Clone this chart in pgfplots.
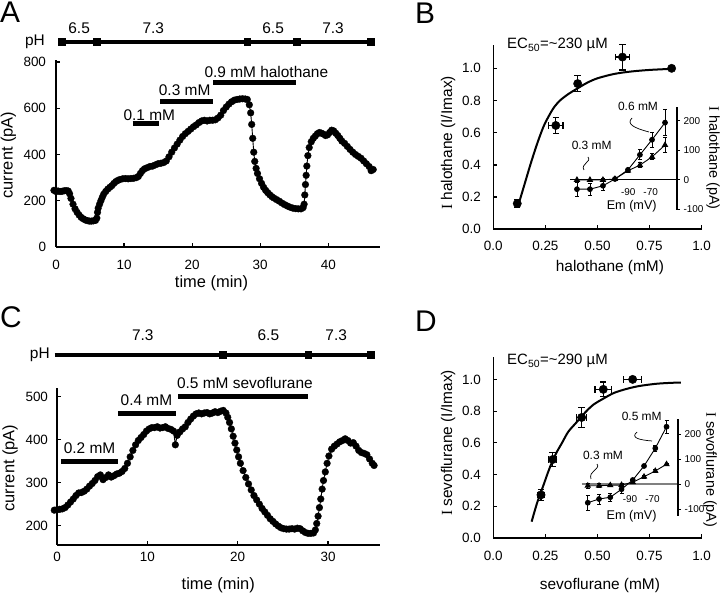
\documentclass[border=0pt]{standalone}
\usepackage{pgfplots}
\pgfplotsset{compat=1.18}
\usepackage{fontspec}
\setmainfont{Liberation Sans}
\newfontfamily\serifI{Liberation Serif}
\newcommand\fs[1]{\fontsize{#1}{#1}\selectfont}
\tikzset{ann/.style={font=\fs{15.5}}}
\begin{document}
\begin{tikzpicture}[x=1bp,y=1bp]
\path[use as bounding box] (0,0) rectangle (720,595);
\pgfplotsset{
  mainax/.style={
    scale only axis, clip=false, anchor=south west,
    axis x line*=bottom, axis y line*=left,
    axis line style={line width=1.6bp, black},
    tick align=inside, major tick length=4bp,
    tick style={black, line width=1.2bp},
    tick label style={font=\fs{13.5}},
    /pgf/number format/assume math mode=true,
    label style={font=\fs{16.5}},
    xlabel style={anchor=center},
    ylabel style={anchor=center},
  },
  trace/.style={black, line width=0.9bp, mark=*, mark size=3.4bp, mark options={line width=0.3bp}},
  phbar/.style={black, line width=4bp, mark=square*, mark size=3.4bp, mark options={line width=0.3bp}},
  drugbar/.style={black, line width=5bp},
  bigpt/.style={black, only marks, mark=*, mark size=4.2bp,
    error bars/.cd, x dir=both, x explicit, y dir=both, y explicit,
    error bar style={line width=1.2bp}, error mark options={rotate=90, mark size=3.2bp, line width=1.2bp}},
  fitc/.style={black, smooth, line width=2bp, no marks},
  inset/.style={scale only axis, clip=false, anchor=south west,
    axis x line=middle, axis y line=right, axis line style={-},
    hide obscured x ticks=false, hide obscured y ticks=false,
    tick label style={font=\fs{10}},
    xtick={-90,-70}, xticklabels={-90,-70}, xtick style={draw=none},
    ytick={-100,0,100,200}, yticklabels={-100,0,100,200},
    ytick style={black, line width=0.8bp}, tick align=outside, major tick length=3bp,
    y axis line style={line width=1.2bp, black}},
  ivc/.style={black, line width=0.9bp, mark=*, mark size=2.4bp,
    error bars/.cd, y dir=both, y explicit, error bar style={line width=0.9bp}, error mark options={rotate=90, mark size=2bp, line width=0.9bp}},
  ivt/.style={black, line width=0.9bp, mark=triangle*, mark size=2.9bp,
    error bars/.cd, y dir=both, y explicit, error bar style={line width=0.9bp}, error mark options={rotate=90, mark size=2bp, line width=0.9bp}},
}

% ---------------- Panel A ----------------
\begin{axis}[mainax, at={(56bp,348bp)}, width=324bp, height=187.3bp,
  xmin=0, xmax=47.6, ymin=0, ymax=810,
  xtick={0,10,20,30,40}, ytick={0,200,400,600,800},
  xticklabel style={yshift=-10bp}, yticklabel style={xshift=-6.5bp},
  xlabel={time (min)}, ylabel={current (pA)},
  xlabel style={at={(axis description cs:0.48,-0.194)}},
  ylabel style={at={(axis description cs:-0.147,0.491)}},
]
\addplot[trace] coordinates {
(-0.3,245) (0,240) (0.3,242) (0.6,240) (0.9,241) (1.2,243) (1.5,244) (1.8,242) (2.0,230) (2.2,210)
(2.5,185) (2.8,165) (3.1,150) (3.4,138) (3.7,128) (4.0,122) (4.3,117) (4.6,114) (4.9,112) (5.2,112)
(5.5,113) (5.8,115) (6.0,125) (6.1,150) (6.2,168) (6.4,185) (6.6,200) (6.8,215) (7.0,228) (7.3,240)
(7.6,250) (7.9,258) (8.2,265) (8.5,275) (8.8,283) (9.1,288) (9.4,292) (9.8,295) (10.2,296) (10.6,295)
(11.0,296) (11.4,297) (11.8,300) (12.1,305) (12.4,318) (12.7,330) (13.0,338) (13.4,343) (13.8,348) (14.2,350)
(14.6,355) (15.0,360) (15.4,362) (15.8,365) (16.2,372) (16.6,390) (17.0,410) (17.4,428) (17.8,445) (18.2,462)
(18.6,478) (19.0,490) (19.4,500) (19.8,510) (20.2,520) (20.6,528) (21.0,538) (21.4,545) (21.8,548) (22.2,545)
(22.6,548) (23.0,548) (23.4,550) (23.8,558) (24.2,570) (24.6,590) (25.0,605) (25.4,618) (25.8,628) (26.2,635)
(26.6,638) (27.0,640) (27.4,641) (27.8,640) (28.1,638) (28.4,615) (28.6,580) (28.75,530) (28.9,470) (29.05,410)
(29.2,370) (29.4,340) (29.6,318) (29.9,295) (30.2,275) (30.5,258) (30.8,245) (31.1,235) (31.4,226) (31.7,218)
(32.0,212) (32.4,205) (32.8,198) (33.2,190) (33.6,183) (34.0,177) (34.4,172) (34.8,168) (35.2,166) (35.6,165)
(36.0,165) (36.3,170) (36.45,185) (36.55,225) (36.65,270) (36.75,310) (36.85,350) (37.0,395) (37.2,430) (37.5,455)
(37.8,470) (38.1,480) (38.4,490) (38.7,495) (39.0,492) (39.3,488) (39.6,482) (39.9,485) (40.2,495) (40.5,505)
(40.8,502) (41.1,492) (41.4,482) (41.7,470) (42.0,458) (42.4,448) (42.8,435) (43.2,422) (43.6,410) (44.0,400)
(44.4,392) (44.8,384) (45.2,372) (45.6,360) (46.0,348) (46.3,330) (46.6,335)
};
\addplot[phbar] coordinates {(0.83,886.6) (5.97,886.6) (28.07,886.6) (35.3,886.6) (46.2,886.6)};
\node[ann] at (axis cs:-3.1,886.6) {pH};
\node[ann] at (axis cs:3.4,946) {6.5};
\node[ann] at (axis cs:14.3,946) {7.3};
\node[ann] at (axis cs:31.9,946) {6.5};
\node[ann] at (axis cs:40.7,946) {7.3};
\addplot[drugbar] coordinates {(11.25,532) (15.16,532)};
\addplot[drugbar] coordinates {(15.35,628) (23.0,628)};
\addplot[drugbar] coordinates {(23.1,710) (35.3,710)};
\node[ann] at (axis cs:13.7,571) {0.1 mM};
\node[ann] at (axis cs:18.9,676) {0.3 mM};
\node[ann] at (axis cs:30.9,758) {0.9 mM halothane};
\end{axis}

% ---------------- Panel C ----------------
\begin{axis}[mainax, at={(57bp,50bp)}, width=322.5bp, height=156.5bp,
  xmin=0, xmax=35.7, ymin=155, ymax=519,
  xtick={0,10,20,30}, ytick={200,300,400,500},
  xticklabel style={yshift=-4bp}, yticklabel style={xshift=-5.5bp},
  xlabel={time (min)}, ylabel={current (pA)},
  xlabel style={at={(axis description cs:0.5,-0.256)}},
  ylabel style={at={(axis description cs:-0.145,0.492)}},
]
\addplot[trace] coordinates {
(-0.3,236) (0,237) (0.3,238) (0.6,239) (0.9,242) (1.2,248) (1.5,255) (1.8,262) (2.1,270) (2.4,276)
(2.7,277) (3.0,280) (3.3,285) (3.6,292) (3.9,298) (4.2,305) (4.5,314) (4.8,318) (5.1,307) (5.4,312)
(5.7,318) (6.0,313) (6.3,316) (6.6,320) (6.9,322) (7.2,326) (7.5,333) (7.8,345) (8.1,360) (8.4,375)
(8.7,388) (9.0,398) (9.3,405) (9.6,412) (9.9,420) (10.2,425) (10.5,428) (10.8,428) (11.1,430) (11.4,427)
(11.7,428) (12.0,430) (12.3,426) (12.6,424) (12.9,420) (13.1,388) (13.3,410) (13.6,418) (13.9,425) (14.2,430)
(14.5,440) (14.8,448) (15.1,455) (15.4,460) (15.7,462) (16.0,460) (16.3,462) (16.6,463) (16.9,460) (17.2,462)
(17.5,465) (17.8,463) (18.1,466) (18.4,468) (18.7,462) (18.9,452) (19.1,440) (19.3,425) (19.5,408) (19.7,392)
(19.9,376) (20.1,360) (20.3,345) (20.6,328) (20.9,312) (21.2,297) (21.5,283) (21.8,270) (22.1,260) (22.4,250)
(22.7,240) (23.0,232) (23.3,224) (23.6,216) (23.9,210) (24.2,204) (24.5,199) (24.8,195) (25.1,193) (25.4,192)
(25.7,192) (26.0,193) (26.3,192) (26.6,194) (26.9,193) (27.2,188) (27.5,184) (27.8,182) (28.1,182) (28.4,183)
(28.6,190) (28.75,205) (28.9,222) (29.05,242) (29.2,262) (29.35,285) (29.5,305) (29.7,325) (29.9,345) (30.1,362)
(30.4,378) (30.7,385) (31.0,390) (31.3,395) (31.6,398) (31.9,402) (32.2,398) (32.5,392) (32.8,393) (33.1,385)
(33.4,375) (33.7,370) (34.0,368) (34.3,365) (34.6,355) (34.9,345) (35.1,340)
};
\addplot[phbar, mark indices={2,3,4}] coordinates {(-0.26,597) (18.3,597) (27.8,597) (34.7,597)};
\node[ann] at (axis cs:-1.9,597) {pH};
\node[ann] at (axis cs:9.5,643.5) {7.3};
\node[ann] at (axis cs:23.4,643.5) {6.5};
\node[ann] at (axis cs:30.9,643.5) {7.3};
\addplot[drugbar] coordinates {(0.48,349) (6.75,349)};
\addplot[drugbar] coordinates {(6.75,461) (13.2,461)};
\addplot[drugbar] coordinates {(13.4,500) (27.8,500)};
\node[ann] at (axis cs:3.6,380) {0.2 mM};
\node[ann] at (axis cs:9.9,492) {0.4 mM};
\node[ann] at (axis cs:20.8,531) {0.5 mM sevoflurane};
\end{axis}

% ---------------- Panel B ----------------
\begin{axis}[mainax, at={(493.3bp,365.7bp)}, width=208.3bp, height=184.3bp,
  xmin=0, xmax=1, ymin=0, ymax=1.145,
  xtick={0,0.25,0.5,0.75,1}, xticklabels={0.0,0.25,0.50,0.75,1.0},
  ytick={0,0.2,0.4,0.6,0.8,1},
  xticklabel style={yshift=-8bp},
  yticklabel style={xshift=-9bp, /pgf/number format/.cd, fixed, fixed zerofill, precision=1},
  label style={font=\fs{15.5}},
  xlabel={halothane (mM)}, ylabel={{\serifI I} halothane (I/Imax)},
  xlabel style={at={(axis description cs:0.56,-0.205)}},
  ylabel style={at={(axis description cs:-0.217,0.468)}},
]
\addplot[fitc] coordinates {(0.12,0.15) (0.15,0.28) (0.18,0.41) (0.21,0.53) (0.24,0.635) (0.265,0.70) (0.29,0.755) (0.32,0.80) (0.36,0.84) (0.40,0.872) (0.45,0.91) (0.50,0.938) (0.58,0.965) (0.66,0.98) (0.75,0.99) (0.86,0.997)};
\addplot[bigpt] coordinates {
(0.115,0.16) +- (0.01,0.025)
(0.30,0.645) +- (0.035,0.05)
(0.405,0.905) +- (0.01,0.05)
(0.62,1.07) +- (0.035,0.08)
(0.856,1.0) +- (0,0)
};
\node[anchor=west, font=\fs{15}] at (axis cs:0.05,1.145) {EC\textsubscript{50}=\textasciitilde230 µM};
\end{axis}

% ---------------- Panel D ----------------
\begin{axis}[mainax, at={(493.3bp,57bp)}, width=208.3bp, height=181.3bp,
  xmin=0, xmax=1, ymin=0, ymax=1.143,
  xtick={0,0.25,0.5,0.75,1}, xticklabels={0.0,0.25,0.50,0.75,1.0},
  ytick={0,0.2,0.4,0.6,0.8,1},
  xticklabel style={yshift=-9.5bp},
  yticklabel style={xshift=-9bp, /pgf/number format/.cd, fixed, fixed zerofill, precision=1},
  label style={font=\fs{15.5}},
  xlabel={sevoflurane (mM)}, ylabel={{\serifI I} sevoflurane (I/Imax)},
  xlabel style={at={(axis description cs:0.512,-0.26)}},
  ylabel style={at={(axis description cs:-0.217,0.524)}},
]
\addplot[fitc] coordinates {(0.184,0.103) (0.21,0.22) (0.24,0.33) (0.27,0.44) (0.30,0.53) (0.33,0.60) (0.36,0.67) (0.40,0.73) (0.44,0.79) (0.48,0.84) (0.53,0.88) (0.58,0.915) (0.64,0.94) (0.70,0.958) (0.78,0.972) (0.85,0.978) (0.90,0.98)};
\addplot[bigpt] coordinates {
(0.229,0.272) +- (0.015,0.035)
(0.285,0.495) +- (0.02,0.045)
(0.424,0.76) +- (0.025,0.063)
(0.528,0.937) +- (0.04,0.046)
(0.669,1.0) +- (0.044,0)
};
\node[anchor=west, font=\fs{15}] at (axis cs:0.05,1.115) {EC\textsubscript{50}=\textasciitilde290 µM};
\end{axis}

% ---------------- Inset B ----------------
\begin{axis}[inset, at={(570bp,385bp)}, width=107bp, height=103bp,
  xmin=-142, xmax=-46.5, ymin=-102, ymax=247,
  x axis line style={line width=1bp, black},
  xticklabel style={yshift=-2bp},
]
\addplot[ivt] coordinates {(-135.8,0) +- (0,3) (-124.2,0) +- (0,3) (-112.6,0) +- (0,5) (-101.9,3) +- (0,4) (-90.3,31) +- (0,6) (-79.6,50) +- (0,9) (-68.8,78) +- (0,10) (-57.2,118) +- (0,25)};
\addplot[ivc] coordinates {(-135.8,-31.5) +- (0,24) (-124.2,-31.5) +- (0,20) (-112.6,-20) +- (0,15) (-101.9,3) +- (0,4) (-90.3,34) +- (0,6) (-79.6,85) +- (0,17) (-68.8,136) +- (0,25) (-57.2,194) +- (0,45)};
\node[font=\fs{12.7}] at (axis cs:-86.9,-90.5) {Em (mV)};
\end{axis}

% ---------------- Inset D ----------------
\begin{axis}[inset, at={(581.7bp,79bp)}, width=96.3bp, height=96.7bp,
  xmin=-132.9, xmax=-47.3, ymin=-128, ymax=258.8,
  x axis line style={line width=1.6bp, gray},
  xticklabel style={yshift=-5bp},
]
\addplot[ivt] coordinates {(-127.5,-7) +- (0,10) (-117.5,-7) +- (0,8) (-107.5,-5) +- (0,5) (-97.5,-4) +- (0,5) (-87.5,7) +- (0,5) (-77.5,29) +- (0,5) (-67.5,52) +- (0,5) (-57.5,79) +- (0,5)};
\addplot[ivc] coordinates {(-127.5,-75) +- (0,30) (-117.5,-60) +- (0,20) (-107.5,-53) +- (0,16) (-97.5,-21) +- (0,16) (-87.5,16) +- (0,5) (-77.5,72) +- (0,5) (-67.5,143) +- (0,12) (-57.5,229) +- (0,25)};
\node[font=\fs{12.7}] at (axis cs:-88.5,-130.8) {Em (mV)};
\end{axis}

% ---------------- inset annotations ----------------
\node[font=\fs{14.5}, rotate=-90] at (713,437) {{\serifI I} halothane (pA)};
\node[font=\fs{14.5}, rotate=-90] at (710,125) {{\serifI I} sevoflurane (pA)};
\node[font=\fs{12}] at (591.7,450) {0.3 mM};
\node[font=\fs{12}] at (638,488.3) {0.6 mM};
\node[font=\fs{12}] at (603,140) {0.3 mM};
\node[font=\fs{12}] at (641.7,179) {0.5 mM};
\draw[line width=0.7bp] (588,438) .. controls (592,433) and (580,431) .. (584,425);
\draw[line width=0.7bp] (632,477) .. controls (626,471) and (634,467) .. (649,463);
\draw[line width=0.7bp] (597,131) .. controls (601,126) and (588,124) .. (591,116);
\draw[line width=0.7bp] (637,163) .. controls (630,157) and (640,155) .. (652,154);

% ---------------- panel letters ----------------
\node[anchor=base west, inner sep=0, font=\fs{30}] at (0,572) {A};
\node[anchor=base west, inner sep=0, font=\fs{30}] at (415,571) {B};
\node[anchor=base west, inner sep=0, font=\fs{30}] at (0,267) {C};
\node[anchor=base west, inner sep=0, font=\fs{30}] at (415,263) {D};
\end{tikzpicture}
\end{document}
